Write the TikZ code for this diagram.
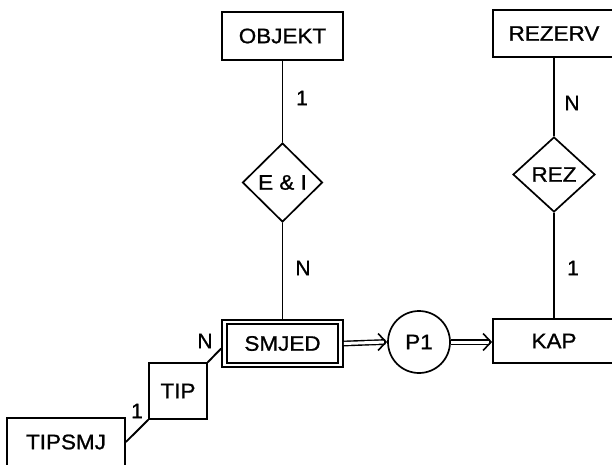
\documentclass[tikz,border=0pt]{standalone}
\usepackage{fontspec}
\usepackage{graphicx}
\setmainfont{Liberation Sans}[FakeBold=1]
\usetikzlibrary{shapes.geometric,arrows.meta}
\newcommand{\lbl}[1]{\scalebox{1.07}[1]{#1}}
\begin{document}
\begin{tikzpicture}[x=1pt,y=-1pt,
  every node/.style={font=\fontsize{21}{25}\selectfont},
  ent/.style={draw,line width=1.7pt,inner sep=0pt,rectangle},
  rel/.style={draw,line width=1.7pt,diamond,inner sep=0pt},
  conn/.style={line width=1.9pt},
  dbl/.style={double,double distance=3pt,line width=1.4pt},
  barb/.style={line width=1.6pt,-{Straight Barb[length=8pt,width=17pt,line width=1.6pt]}},
  card/.style={inner sep=0pt}
]
\useasboundingbox (0,0) rectangle (612,464);
% entities
\node[ent,minimum width=121pt,minimum height=48pt] (objekt) at (282.5,36) {\lbl{OBJEKT}};
\node[ent,minimum width=122pt,minimum height=47pt] (rezerv) at (554,33.5) {\lbl{REZERV}};
\node[ent,minimum width=121pt,minimum height=47pt] (smjed) at (282.5,343.5) {\lbl{SMJED}};
\draw[line width=1.7pt] ([shift={(6pt,-5pt)}]smjed.north west) rectangle ([shift={(-6pt,5pt)}]smjed.south east);
\node[ent,minimum width=122pt,minimum height=44pt] (kap) at (554,341) {\lbl{KAP}};
\node[ent,minimum width=58pt,minimum height=56pt] (tip) at (178,391) {\lbl{TIP}};
\node[ent,minimum width=118pt,minimum height=48pt] (tipsmj) at (66,442) {\lbl{TIPSMJ}};
% relationships
\node[rel,minimum width=80pt,minimum height=79pt] (ei) at (282.5,182.5) {\lbl{E \& I}};
\node[rel,minimum width=82pt,minimum height=75pt] (rez) at (554,174.5) {\lbl{REZ}};
\node[draw,circle,line width=1.7pt,minimum size=62pt,inner sep=0pt] (p1) at (419,342) {\lbl{P1}};
% connectors
\draw[conn] (objekt.south) -- (ei.north);
\draw[conn] (ei.south) -- (smjed.north);
\draw[conn] (rezerv.south) -- (rez.north);
\draw[conn] (rez.south) -- (kap.north);
\draw[dbl] (smjed.east) -- ([xshift=-2pt]p1.west);
\draw[barb] ([xshift=-3pt]p1.west) -- (p1.west);
\draw[dbl] (p1.east) -- ([xshift=-2pt]kap.west |- p1.east);
\draw[barb] ([xshift=-3pt]kap.west |- p1.east) -- (kap.west |- p1.east);
\draw[conn] (tip.north east) -- ([yshift=-5pt]smjed.west);
\draw[conn] (tip.south west) -- (tipsmj.east);
% cardinalities
\node[card] (c1) at (302,98) {1};
\node[card] (c2) at (303,268) {N};
\node[card] (c3) at (572,103) {N};
\node[card] (c4) at (573,268) {1};
\node[card] (c5) at (205,341) {N};
\node[card] (c6) at (137,411) {1};
\end{tikzpicture}
\end{document}
